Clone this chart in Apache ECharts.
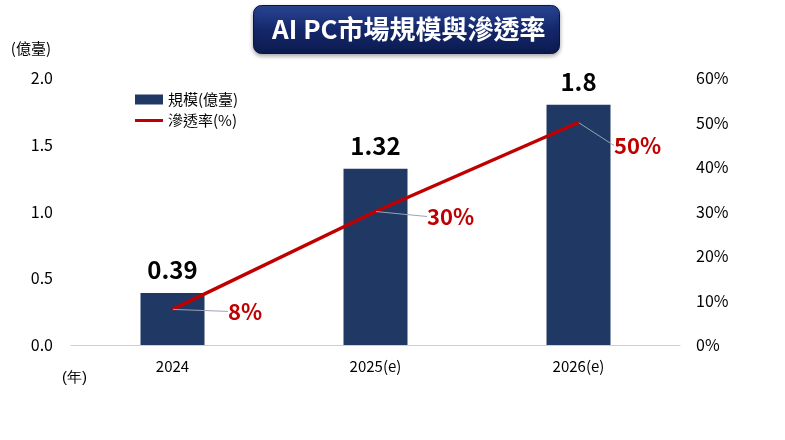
<!DOCTYPE html>
<html>
<head>
<meta charset="utf-8">
<script src="https://cdn.jsdelivr.net/npm/echarts@6/dist/echarts.min.js"></script>
<style>
    html, body {margin: 0; padding: 0; background: #fff;}
    #chart {width: 785px; height: 440px;}
</style>
</head>
<body>
<div id="chart"></div>
<script>
const years = ['2024', '2025(e)', '2026(e)'];
const scale = [0.39, 1.32, 1.8];        // 億臺
const penetration = [8, 30, 50];         // %
const labelShift = [[50, 2], [46, 5], [30, 23]];

const font = '"Noto Sans CJK TC", "Noto Sans", sans-serif';
const chart = echarts.init(document.getElementById('chart'));

const option = {
    textStyle: {fontFamily: font},
    animation: false,
    title: {
        text: 'AI PC市場規模與滲透率',
        left: 253,
        top: 5,
        padding: [11, 14, 12, 19],
        backgroundColor: new echarts.graphic.LinearGradient(0, 0, 0, 1, [
            {offset: 0, color: '#2b4796'},
            {offset: 0.5, color: '#14276b'},
            {offset: 1, color: '#0c1a4f'}
        ]),
        borderRadius: 8,
        borderColor: '#0a1540',
        borderWidth: 1,
        shadowColor: 'rgba(0,0,0,0.35)',
        shadowBlur: 4,
        shadowOffsetY: 2,
        textStyle: {color: '#fff', fontSize: 26, fontWeight: 'bold', fontFamily: font}
    },
    graphic: [{
        type: 'text',
        left: 62,
        top: 370,
        style: {text: '(年)', fontSize: 15, fill: '#000', font: '15px ' + font}
    }],
    legend: {
        orient: 'vertical',
        left: 130,
        top: 87,
        itemGap: 6,
        itemWidth: 28,
        itemHeight: 10,
        textStyle: {fontSize: 15, color: '#000'},
        data: [
            {name: '規模(億臺)', icon: 'rect'},
            {name: '滲透率(%)', icon: 'path://M0,4 L28,4 L28,7 L0,7 Z'}
        ]
    },
    grid: {left: 71, right: 105, top: 78, bottom: 95},
    xAxis: {
        type: 'category',
        data: years,
        axisLine: {lineStyle: {color: '#d0d0d0', width: 1}},
        axisTick: {show: false},
        axisLabel: {fontSize: 15, color: '#000', margin: 14}
    },
    yAxis: [{
        type: 'value',
        min: 0,
        max: 2,
        interval: 0.5,
        name: '(億臺)',
        nameGap: 22,
        nameTextStyle: {fontSize: 15, color: '#000', align: 'right', padding: [0, 20, 0, 0]},
        splitLine: {show: false},
        axisLine: {show: false},
        axisTick: {show: false},
        axisLabel: {fontSize: 16, color: '#000', margin: 18, formatter: v => v.toFixed(1)}
    }, {
        type: 'value',
        min: 0,
        max: 60,
        interval: 10,
        splitLine: {show: false},
        axisLine: {show: false},
        axisTick: {show: false},
        axisLabel: {fontSize: 16, color: '#000', margin: 16, formatter: '{value}%'}
    }],
    series: [{
        name: '規模(億臺)',
        type: 'bar',
        data: scale,
        barWidth: 64,
        itemStyle: {color: '#1f3864'},
        label: {
            show: true,
            position: 'top',
            distance: 11,
            fontSize: 24,
            fontWeight: 'bold',
            color: '#000'
        }
    }, {
        name: '滲透率(%)',
        type: 'line',
        yAxisIndex: 1,
        data: penetration,
        symbol: 'circle',
        symbolSize: 1,
        showSymbol: true,
        lineStyle: {color: '#c00000', width: 3.5},
        itemStyle: {color: '#c00000'},
        z: 5,
        label: {
            show: true,
            position: 'right',
            fontSize: 22,
            fontWeight: 'bold',
            color: '#c00000',
            formatter: '{c}%'
        },
        labelLine: {show: true, lineStyle: {color: '#9aa3b5', width: 1}},
        labelLayout: function (params) {
            const s = labelShift[params.dataIndex];
            return {dx: s[0], dy: s[1]};
        }
    }]
};
chart.setOption(option);
</script>
</body>
</html>
